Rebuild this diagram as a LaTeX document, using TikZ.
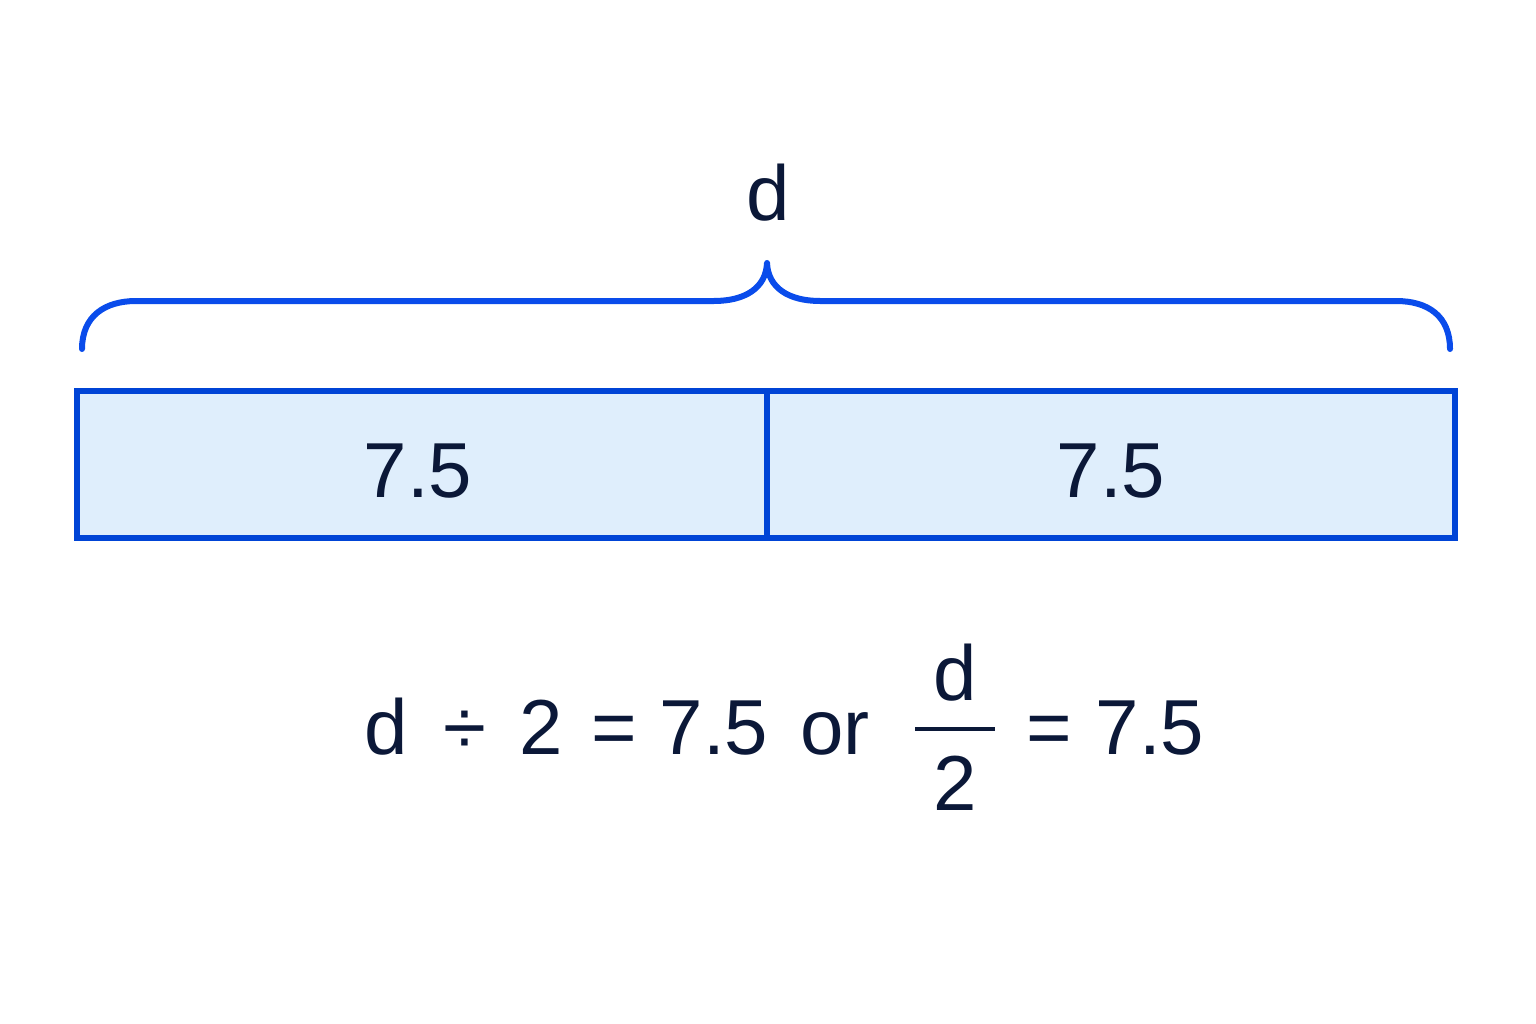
\documentclass[tikz,border=0pt]{standalone}
\usepackage{fontspec}
\setmainfont{Liberation Sans}
\definecolor{braceblue}{HTML}{0A4CEB}
\definecolor{boxblue}{HTML}{0044D6}
\definecolor{boxfill}{HTML}{DFEEFC}
\definecolor{ink}{HTML}{0B1838}
\tikzset{
  txt/.style={text=ink, inner sep=0pt, anchor=base, font=\fontsize{78}{94}\selectfont},
  part/.style={draw=boxblue, fill=boxfill, line width=6pt}
}

\begin{document}
\begin{tikzpicture}[x=1pt, y=-1pt]
  \useasboundingbox (0,0) rectangle (1536,1024);

  % the two equal parts of the bar
  \draw[part] (77,391) rectangle (767,538);
  \draw[part] (767,391) rectangle (1455,538);
  \node[txt] (leftval) at (418,497) {7.5};
  \node[txt] (rightval) at (1111,497) {7.5};

  % the brace over the whole bar
  \draw[braceblue, line width=6pt, line cap=round, line join=round]
    (82,349) .. controls (82,316) and (105,301) .. (136,301) -- (714,301)
    .. controls (745,301) and (766,288) .. (767,263)
    .. controls (768,288) and (789,301) .. (820,301) -- (1396,301)
    .. controls (1428,301) and (1450,316) .. (1450,349);
  \node[txt] (total) at (768,221) {d};

  % the equation
  \node[txt] (eqd) at (386,754) {d};
  \node[txt] (eqdiv) at (465,754) {÷};
  \node[txt] (eqtwo) at (541,754) {2};
  \node[txt] (eqeq) at (614,754) {=};
  \node[txt] (eqval) at (714,754) {7.5};
  \node[txt] (eqor) at (835,754) {or};
  \coordinate (barL) at (915,729);
  \coordinate (barR) at (995,729);
  \draw[ink, line width=4.5pt] (barL) -- (barR);
  \node[txt] (num) at (955,700) {d};
  \node[txt] (den) at (955,810) {2};
  \node[txt] (eqeqb) at (1049,754) {=};
  \node[txt] (eqvalb) at (1150,754) {7.5};
\end{tikzpicture}
\end{document}
